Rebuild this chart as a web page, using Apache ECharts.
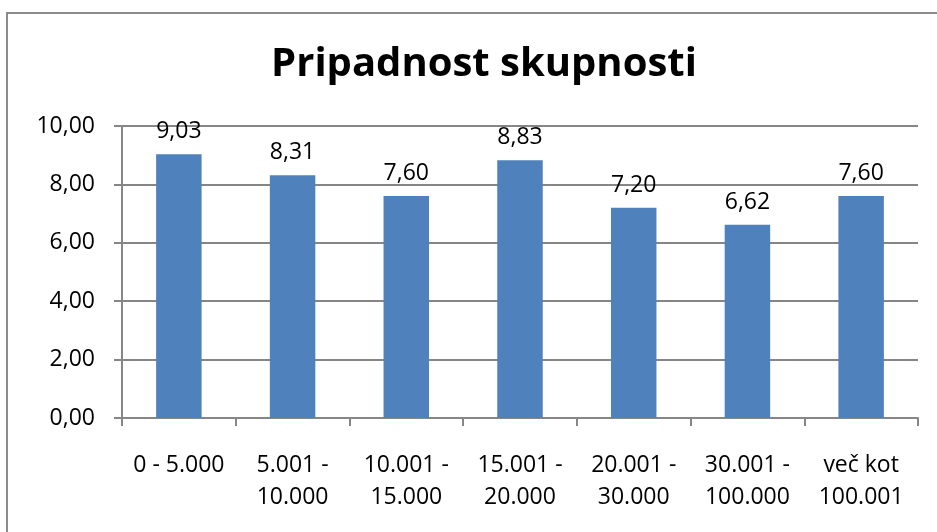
<!DOCTYPE html>
<html>
<head>
<meta charset="utf-8">
<script src="https://cdn.jsdelivr.net/npm/echarts@6/dist/echarts.min.js"></script>
<style>
  html, body { margin: 0; padding: 0; background: #fff; }
  #main { width: 937px; height: 532px; }
</style>
</head>
<body>
<div id="main"></div>
<script>
var categories = ['0 - 5.000', '5.001 -\n10.000', '10.001 -\n15.000', '15.001 -\n20.000',
  '20.001 -\n30.000', '30.001 -\n100.000', 'več kot\n100.001']
var values = [9.03, 8.31, 7.60, 8.83, 7.20, 6.62, 7.60]
var yTicks = { min: 0, max: 10, interval: 2 }

function comma (v) {
  return Number(v).toFixed(2).replace('.', ',')
}

var chart = echarts.init(document.getElementById('main'))
var font = '"Open Sans", sans-serif'

chart.setOption({
  animation: false,
  textStyle: { fontFamily: font },
  title: {
    text: 'Pripadnost skupnosti',
    left: 479,
    textAlign: 'center',
    top: 40,
    textStyle: { fontFamily: font, fontSize: 40, fontWeight: 'bold', color: '#000' }
  },
  graphic: [{
    type: 'rect',
    shape: { x: 7, y: 13, width: 940, height: 530 },
    style: { fill: 'none', stroke: '#8c8c8c', lineWidth: 2 },
    silent: true
  }],
  grid: { left: 122, right: 19, top: 126, bottom: 114 },
  xAxis: {
    type: 'category',
    data: categories,
    axisLine: { lineStyle: { color: '#868686', width: 2 } },
    axisTick: { show: true, length: 8, lineStyle: { color: '#868686', width: 2 } },
    axisLabel: {
      interval: 0,
      margin: 31,
      fontSize: 23,
      lineHeight: 32,
      color: '#000',
      fontFamily: font
    }
  },
  yAxis: {
    type: 'value',
    min: yTicks.min,
    max: yTicks.max,
    interval: yTicks.interval,
    axisLine: { show: true, lineStyle: { color: '#868686', width: 2 } },
    axisTick: { show: true, length: 8, lineStyle: { color: '#868686', width: 2 } },
    splitLine: { lineStyle: { color: '#868686', width: 2 } },
    axisLabel: {
      margin: 27,
      fontSize: 23,
      color: '#000',
      fontFamily: font,
      formatter: comma
    }
  },
  series: [{
    type: 'bar',
    data: values,
    barCategoryGap: '60%',
    itemStyle: { color: '#4f81bd' },
    label: {
      show: true,
      position: 'top',
      distance: 11,
      fontSize: 23,
      color: '#000',
      fontFamily: font,
      formatter: function (p) { return comma(p.value) }
    }
  }]
})
</script>
</body>
</html>
